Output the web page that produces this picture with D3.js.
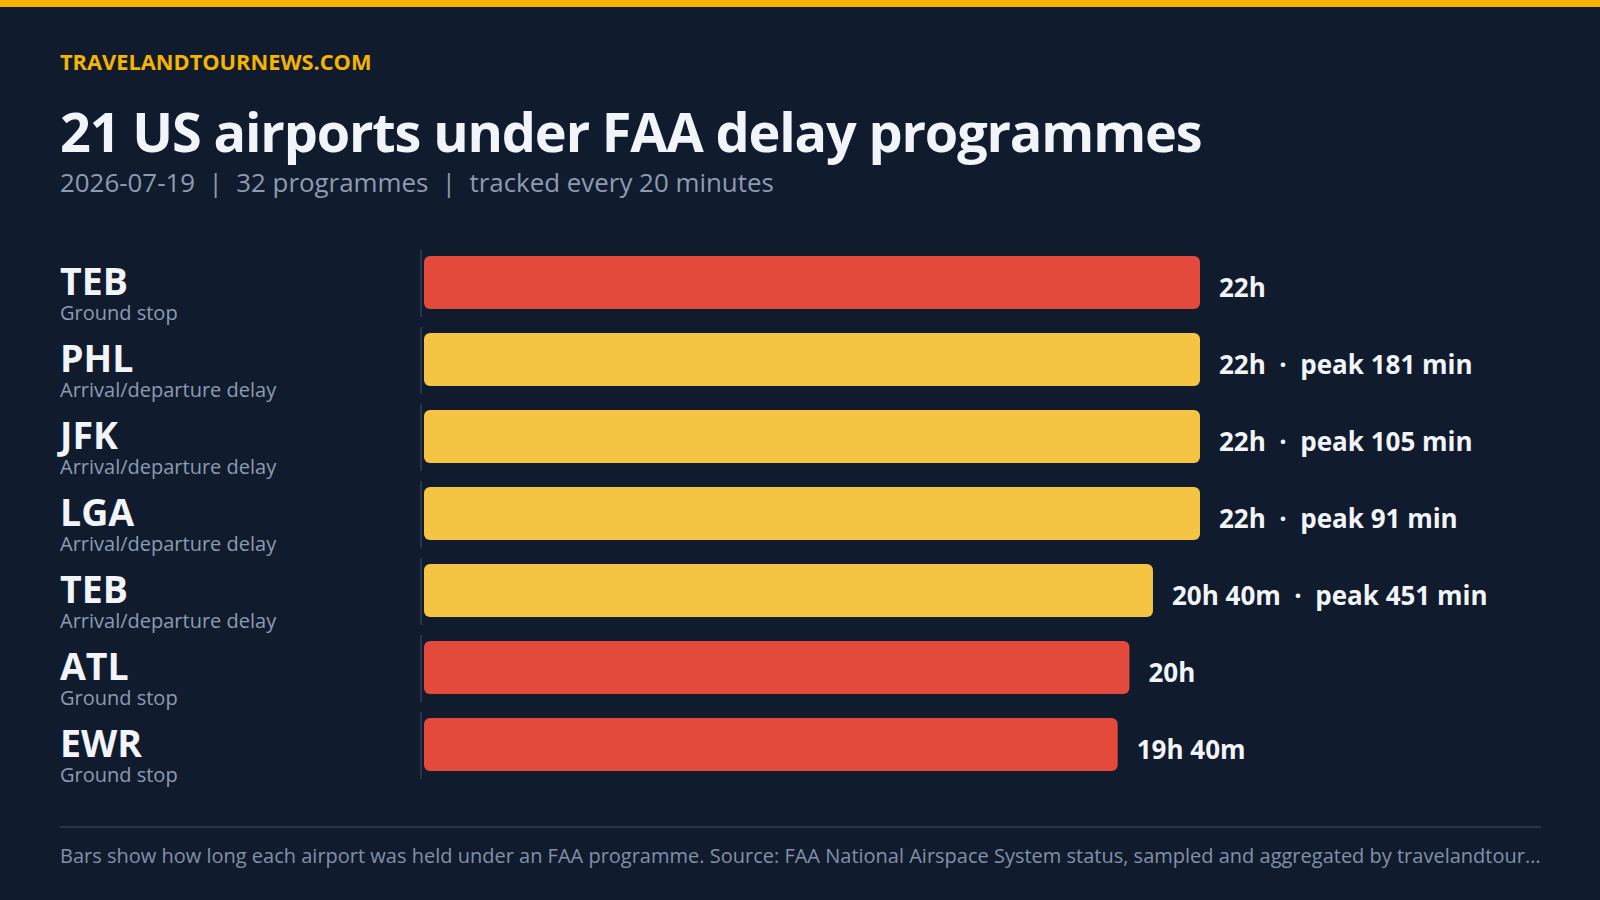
<!DOCTYPE html>
<html>
<head>
<meta charset="utf-8">
<script src="https://cdn.jsdelivr.net/npm/d3@7"></script>
<style>
  html, body { margin: 0; padding: 0; background: #111b2e; }
  svg { display: block; font-family: "Open Sans", "Noto Sans", sans-serif; }
  text { white-space: pre; }
</style>
</head>
<body>
<svg id="chart" width="1600" height="900"></svg>
<script>
// ---- data ----
const brand = "TRAVELANDTOURNEWS.COM";
const title = "21 US airports under FAA delay programmes";
const subtitleParts = ["2026-07-19", "32 programmes", "tracked every 20 minutes"];
const airports = ["TEB", "PHL", "JFK", "LGA", "TEB", "ATL", "EWR"];
const programTypes = ["Ground stop", "Arrival/departure delay", "Arrival/departure delay",
  "Arrival/departure delay", "Arrival/departure delay", "Ground stop", "Ground stop"];
const durationMinutes = [1320, 1320, 1320, 1320, 1240, 1200, 1180];
const peakDelayMinutes = [null, 181, 105, 91, 451, null, null];
const footnote = "Bars show how long each airport was held under an FAA programme. Source: FAA National Airspace System status, sampled and aggregated by travelandtour\u2026";

// ---- styles ----
const C = {
  bg: "#111b2e", accent: "#f5b400", title: "#f1f5f9", muted: "#8d9bb2",
  red: "#e44a3b", yellow: "#f5c443", rule: "#26354d", foot: "#8291a8"
};

const svg = d3.select("#chart");
svg.append("rect").attr("width", 1600).attr("height", 900).attr("fill", C.bg);
svg.append("rect").attr("width", 1600).attr("height", 7).attr("fill", C.accent);

svg.append("text").attr("x", 60).attr("y", 70)
  .attr("font-size", 21.8).attr("font-weight", 700).attr("fill", C.accent).text(brand);
svg.append("text").attr("x", 60).attr("y", 152)
  .attr("font-size", 54).attr("font-weight", 700).attr("letter-spacing", -1.15)
  .attr("fill", C.title).text(title);
svg.append("text").attr("x", 60).attr("y", 192)
  .attr("font-size", 25.9).attr("fill", C.muted).text(subtitleParts.join("  |  "));

// ---- scales ----
const rows = d3.range(airports.length);
const y = d3.scaleBand().domain(rows).range([250, 779]).paddingInner(10 / 77).paddingOuter(0);
const x = d3.scaleLinear().domain([0, d3.max(durationMinutes)]).range([424, 1200]);
const color = t => t === "Ground stop" ? C.red : C.yellow;
const fmt = m => { const h = Math.floor(m / 60), mm = m % 60; return mm ? `${h}h ${mm}m` : `${h}h`; };

const g = svg.append("g");
const row = g.selectAll("g.row").data(rows).join("g").attr("class", "row")
  .attr("transform", i => `translate(0,${y(i)})`);

row.append("line").attr("x1", 421).attr("x2", 421).attr("y1", 0).attr("y2", y.bandwidth())
  .attr("stroke", C.rule).attr("stroke-width", 2);

row.append("rect").attr("x", x(0)).attr("y", 6)
  .attr("width", i => x(durationMinutes[i]) - x(0)).attr("height", 53)
  .attr("rx", 6).attr("fill", i => color(programTypes[i]));

row.append("text").attr("x", 60).attr("y", 45)
  .attr("font-size", 37.5).attr("font-weight", 700).attr("fill", C.title)
  .text(i => airports[i]);
row.append("text").attr("x", 60).attr("y", 70)
  .attr("font-size", 20).attr("fill", C.muted)
  .text(i => programTypes[i]);

row.append("text").attr("x", i => x(durationMinutes[i]) + 19).attr("y", 47)
  .attr("font-size", 26).attr("font-weight", 700).attr("fill", C.title)
  .text(i => fmt(durationMinutes[i]) + (peakDelayMinutes[i] != null ? `  \u00b7  peak ${peakDelayMinutes[i]} min` : ""));

// ---- footer ----
svg.append("line").attr("x1", 60).attr("x2", 1541).attr("y1", 827).attr("y2", 827)
  .attr("stroke", C.rule).attr("stroke-width", 2);
svg.append("text").attr("x", 60).attr("y", 863)
  .attr("font-size", 20).attr("fill", C.foot).text(footnote);
</script>
</body>
</html>
